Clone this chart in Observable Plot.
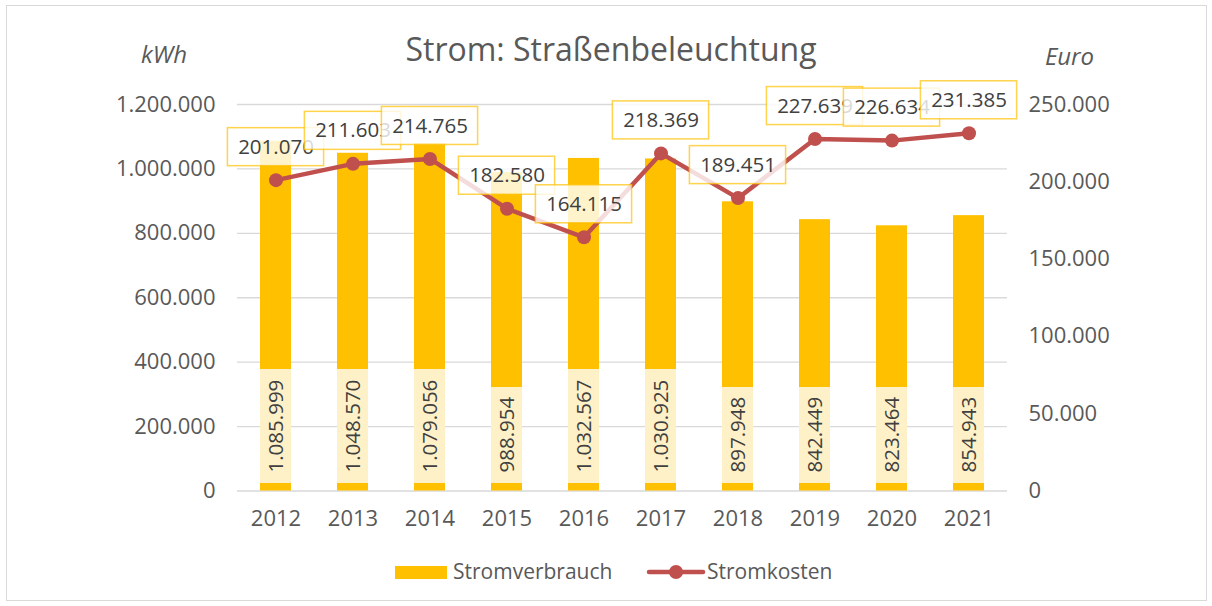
<!DOCTYPE html>
<html>
<head>
<meta charset="utf-8">
<script src="https://cdn.jsdelivr.net/npm/d3@7"></script>
<script src="https://cdn.jsdelivr.net/npm/@observablehq/plot@0.6"></script>
<style>
  html, body { margin: 0; padding: 0; background: #fff; }
  body { width: 1212px; height: 606px; position: relative; overflow: hidden; font-family: "Open Sans", sans-serif; color: #595959; }
  #frame { position: absolute; left: 6px; top: 5px; width: 1201px; height: 596px; border: 1px solid #D9D9D9; box-sizing: border-box; }
  .t { position: absolute; white-space: nowrap; line-height: 1; }
  #title { font-size: 32px; left: 611px; transform: translateX(-50%); top: 32.5px; }
  #kwh { font-size: 24px; font-style: italic; left: 164px; transform: translateX(-50%); top: 42px; }
  #euro { font-size: 24px; font-style: italic; left: 1069.5px; transform: translateX(-50%); top: 44px; }
  #chart { position: absolute; left: 0; top: 80px; }
  #sw1 { position: absolute; left: 395px; top: 566px; width: 52px; height: 13px; background: #FFC000; }
  #lg1 { font-size: 21px; left: 453px; top: 560.5px; }
  #sw2 { position: absolute; left: 646px; top: 561px; }
  #lg2 { font-size: 21px; left: 707px; top: 560.5px; }
</style>
</head>
<body>
<div id="frame"></div>
<div id="title" class="t">Strom: Straßenbeleuchtung</div>
<div id="kwh" class="t">kWh</div>
<div id="euro" class="t">Euro</div>
<div id="chart"></div>
<div id="sw1"></div>
<div id="lg1" class="t">Stromverbrauch</div>
<svg id="sw2" width="60" height="22"><line x1="3" y1="11" x2="57" y2="11" stroke="#C0504D" stroke-width="4.5" stroke-linecap="round"/><circle cx="30" cy="11" r="7" fill="#C0504D"/></svg>
<div id="lg2" class="t">Stromkosten</div>
<script>
// ---- data ----
const years = ["2012", "2013", "2014", "2015", "2016", "2017", "2018", "2019", "2020", "2021"];
const stromverbrauch = [1085999, 1048570, 1079056, 988954, 1032567, 1030925, 897948, 842449, 823464, 854943]; // kWh
const stromkosten = [201070, 211603, 214765, 182580, 164115, 218369, 189451, 227639, 226634, 231385];        // Euro
const kwhTicks = [0, 200000, 400000, 600000, 800000, 1000000, 1200000];
const euroTicks = [0, 50000, 100000, 150000, 200000, 250000];

const kwhMax = 1200000, euroMax = 250000;
const ratio = kwhMax / euroMax; // maps the Euro axis onto the kWh axis

const fmt = d3.formatLocale({decimal: ",", thousands: ".", grouping: [3], currency: ["", "€"]}).format(",d");

const data = years.map((year, i) => ({
  year,
  kwh: stromverbrauch[i],
  euro: stromkosten[i],
  euroOnKwh: stromkosten[i] * ratio
}));

const barColor = "#FFC000";
const lineColor = "#C0504D";
const labelColor = "#404040";

// line labels: each box + text drawn in order, so later boxes overlap earlier texts
const lineLabelMarks = years.flatMap(y => [
  Plot.barY(data, {
    filter: d => d.year === y, x: "year", y1: "euroOnKwh", y2: "euroOnKwh",
    insetTop: -19, insetBottom: -19, insetLeft: -32.6, insetRight: -32.6, dy: -33,
    fill: "white", fillOpacity: 0.8, stroke: barColor, strokeOpacity: 0.7, strokeWidth: 1.5
  }),
  Plot.text(data, {
    filter: d => d.year === y, x: "year", y: "euroOnKwh", text: d => fmt(d.euro),
    dy: -33, lineAnchor: "middle", fontSize: 20.5, fill: labelColor
  })
]);

const chart = Plot.plot({
  width: 1212,
  height: 470,
  marginTop: 24,
  marginBottom: 59.5,
  marginLeft: 237,
  marginRight: 205,
  style: {fontFamily: "Open Sans, sans-serif", fontSize: "22px", color: "#595959", background: "transparent", overflow: "visible"},
  x: {domain: years, paddingInner: 0.6, paddingOuter: 0.3, label: null},
  y: {domain: [0, kwhMax], label: null},
  marks: [
    Plot.gridY(kwhTicks, {stroke: "#D9D9D9", strokeOpacity: 1, strokeWidth: 1.3}),
    Plot.axisY({ticks: kwhTicks, tickFormat: fmt, tickSize: 0, tickPadding: 22, fontSize: 22, color: "#595959", label: null}),
    Plot.axisY({anchor: "right", ticks: euroTicks.map(v => v * ratio), tickFormat: d => fmt(Math.round(d / ratio)), tickSize: 0, tickPadding: 21, fontSize: 22, color: "#595959", label: null}),
    Plot.axisX({tickSize: 0, tickPadding: 19, fontSize: 22, color: "#595959", label: null}),
    Plot.barY(data, {x: "year", y: "kwh", fill: barColor}),
    // bar value label backgrounds
    Plot.barY(data.filter(d => d.kwh >= 1e6), {x: "year", y1: 0, y2: 0, insetTop: -121.5, insetBottom: 7.5, fill: "white", fillOpacity: 0.78}),
    Plot.barY(data.filter(d => d.kwh < 1e6), {x: "year", y1: 0, y2: 0, insetTop: -103.5, insetBottom: 7.5, fill: "white", fillOpacity: 0.78}),
    Plot.text(data, {x: "year", y: 0, text: d => fmt(d.kwh), rotate: -90, textAnchor: "start", lineAnchor: "middle", dy: -18.5, fontSize: 20.5, fill: labelColor}),
    Plot.line(data, {x: "year", y: "euroOnKwh", stroke: lineColor, strokeWidth: 4.5}),
    Plot.dot(data, {x: "year", y: "euroOnKwh", r: 7, fill: lineColor}),
    ...lineLabelMarks
  ]
});
document.getElementById("chart").appendChild(chart);
</script>
</body>
</html>
